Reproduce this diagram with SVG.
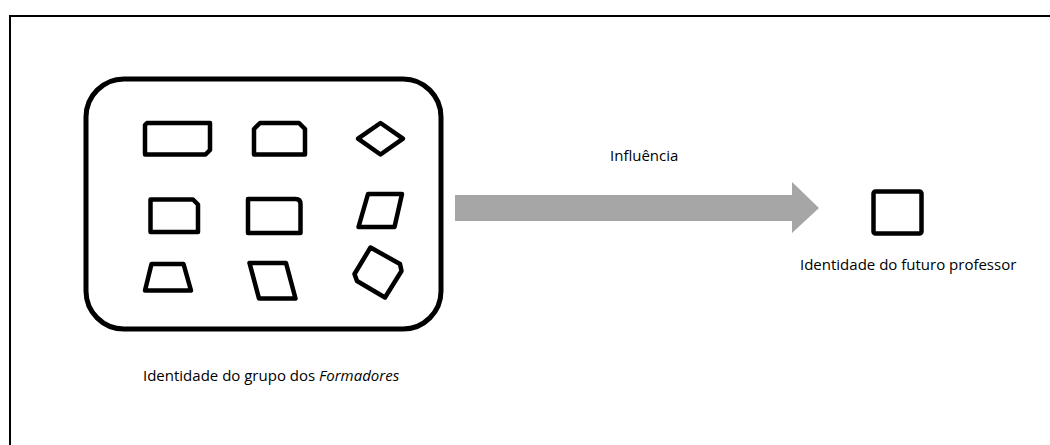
<svg xmlns="http://www.w3.org/2000/svg" width="1050" height="445" viewBox="0 0 1050 445">
  <style>
    .frame { fill: none; stroke: #000; stroke-width: 2; }
    .shape { fill: #fff; stroke: #000; stroke-width: 4.5; stroke-linejoin: round; }
    .group { fill: #fff; stroke: #000; stroke-width: 5; }
    .label { font-family: "Open Sans", "Liberation Sans", sans-serif; font-size: 15px; fill: #000; }
    .arrow { fill: #a6a6a6; }
  </style>

  <rect width="1050" height="445" fill="#fff"/>
  <!-- outer frame (top and left edges) -->
  <path class="frame" d="M10 445 V16 H1050"/>

  <!-- group of trainers -->
  <g id="grupo-formadores">
    <rect class="group" x="86" y="79" width="355" height="250" rx="38" ry="38"/>
    <!-- row 1 -->
    <path class="shape" d="M147 123 H210 V150 L205.5 154.5 H145 V125 Z"/>
    <path class="shape" d="M260 123 H299 L305 129 V154.5 H254 V129 Z"/>
    <polygon class="shape" points="380.5,123 403,138.7 380.5,154.5 358,138.7"/>
    <!-- row 2 -->
    <path class="shape" d="M150.5 199.5 H193 L198 204.5 V232 H150.5 Z"/>
    <path class="shape" d="M248 199 H295.5 Q300.5 199 300.5 204 V233 H248 Z"/>
    <polygon class="shape" points="368,194 402,194 394.5,227 358.5,227"/>
    <!-- row 3 -->
    <polygon class="shape" points="151.5,264 183.5,264 191,290.5 145,290.5"/>
    <polygon class="shape" points="249.5,263 286,263 295.5,298.5 259,298.5"/>
    <polygon class="shape" points="370.5,247.5 400,264 401.5,271 385,297.5 357,281 354.5,274"/>
    <text class="label" x="143" y="381">Identidade do grupo dos <tspan font-style="italic">Formadores</tspan></text>
  </g>

  <!-- influence connector -->
  <g id="conectores">
    <polygon class="arrow" points="455,195 792,195 792,182 819,208 792,233 792,221 455,221"/>
    <text class="label" x="610" y="161">Influência</text>
  </g>

  <!-- future teacher -->
  <g id="futuro-professor">
    <rect class="shape" x="873.5" y="191.5" width="48" height="42" rx="2"/>
    <text class="label" x="800" y="270">Identidade do futuro professor</text>
  </g>
</svg>
